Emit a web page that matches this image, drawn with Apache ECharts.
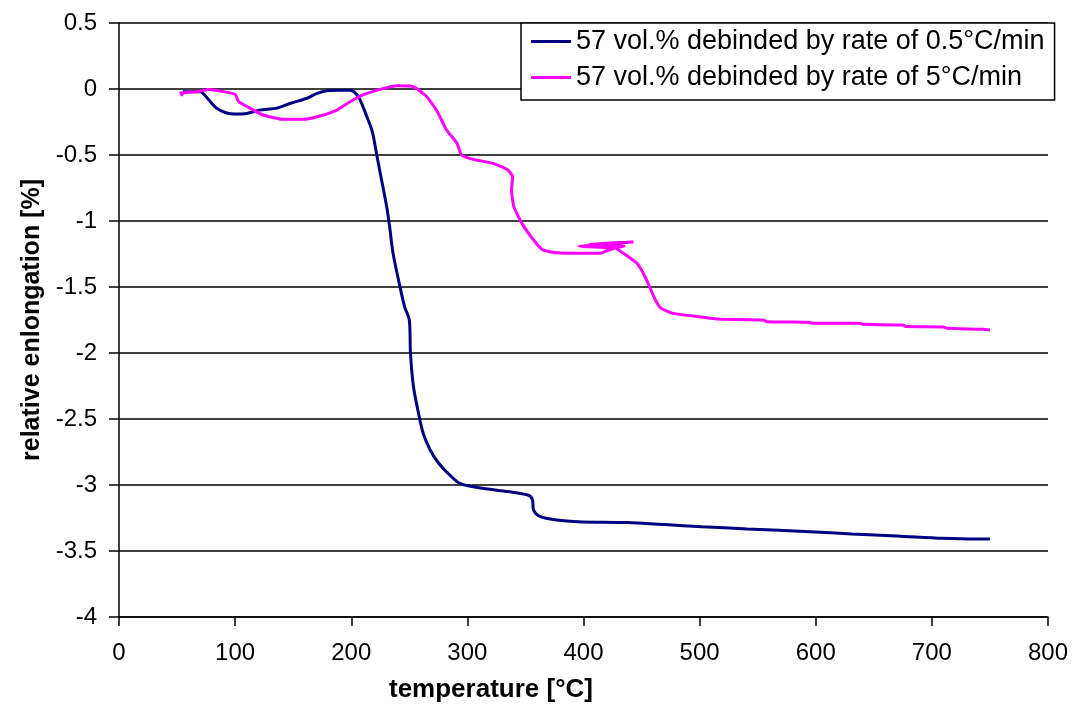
<!DOCTYPE html>
<html>
<head>
<meta charset="utf-8">
<script src="https://cdn.jsdelivr.net/npm/echarts@6/dist/echarts.min.js"></script>
<style>
html,body{margin:0;padding:0;background:#fff;}
#chart{width:1072px;height:711px;}
</style>
</head>
<body>
<div id="chart"></div>
<script>
// Series names
const seriesNames = ['57 vol.% debinded by rate of 0.5°C/min', '57 vol.% debinded by rate of 5°C/min'];

// Series 1: 0.5 °C/min (temperature °C, relative elongation %)
const slowTemp = [55,62,70,77,84,92,100,110,121,136,147,162,170,179,190,199,203,207.5,213,218,222,225,230.5,233,236,242,246,250,251,253.5,258,262,268,274,282,294,313,335,352,356,357,363,377,395,438,470,502,541,595,631,670,709,738,750];
const slowElong = [-0.02,-0.02,-0.02,-0.08,-0.145,-0.18,-0.19,-0.185,-0.16,-0.145,-0.11,-0.07,-0.035,-0.013,-0.01,-0.01,-0.025,-0.08,-0.2,-0.32,-0.5,-0.64,-0.89,-1.04,-1.245,-1.5,-1.65,-1.75,-2.0,-2.25,-2.46,-2.61,-2.735,-2.82,-2.9,-2.99,-3.025,-3.05,-3.076,-3.11,-3.19,-3.24,-3.265,-3.278,-3.285,-3.30,-3.316,-3.333,-3.354,-3.371,-3.386,-3.404,-3.41,-3.41];

// Series 2: 5 °C/min
const fastTemp = [53,54,55.5,67,78,90,100,103,113,124,141,159,173,187.5,199,210,228,239,251,256,262,265,274,282,291,295,305,322,334,339,338,340,347,357,365,377,397,414,420,428,396,443,405,435,428,437,446,451.5,457,462,467,477,494.5,515,555,558,595,598,638,641,675,678,710,713,744,750];
const fastElong = [-0.02,-0.045,-0.028,-0.02,-0.003,-0.02,-0.04,-0.096,-0.146,-0.197,-0.23,-0.23,-0.205,-0.16,-0.096,-0.045,0.005,0.025,0.023,0.005,-0.035,-0.058,-0.17,-0.31,-0.41,-0.5,-0.533,-0.563,-0.608,-0.664,-0.765,-0.891,-1.018,-1.144,-1.22,-1.24,-1.245,-1.245,-1.225,-1.205,-1.19,-1.16,-1.175,-1.19,-1.205,-1.26,-1.32,-1.396,-1.5,-1.6,-1.662,-1.7,-1.72,-1.742,-1.75,-1.763,-1.768,-1.775,-1.775,-1.783,-1.788,-1.8,-1.803,-1.813,-1.82,-1.826];

// Axis ticks
const xMin = 0, xMax = 800, xStep = 100;
const yMin = -4, yMax = 0.5, yStep = 0.5;

const zip = (a, b) => a.map((v, i) => [v, b[i]]);

const chart = echarts.init(document.getElementById('chart'), null, {renderer: 'canvas'});
const font = 'Liberation Sans, Arial, sans-serif';
chart.setOption({
  animation: false,
  backgroundColor: '#ffffff',
  grid: {left: 119, right: 24, top: 23, bottom: 94, containLabel: false},
  xAxis: {
    type: 'value', min: xMin, max: xMax, interval: xStep,
    axisLine: {show: true, onZero: false, lineStyle: {color: '#000', width: 1.5}},
    axisTick: {show: true, length: 9, lineStyle: {color: '#000', width: 1.5}},
    axisLabel: {color: '#000', fontSize: 24, fontFamily: font, margin: 24},
    splitLine: {show: false}
  },
  yAxis: {
    type: 'value', min: yMin, max: yMax, interval: yStep,
    name: 'relative enlongation [%]', nameLocation: 'middle', nameGap: 74, nameRotate: 90,
    nameTextStyle: {color: '#000', fontSize: 25, fontWeight: 'bold', fontFamily: font},
    axisLine: {show: true, onZero: false, lineStyle: {color: '#000', width: 1.5}},
    axisTick: {show: true, length: 10, lineStyle: {color: '#000', width: 1.5}},
    axisLabel: {color: '#000', fontSize: 24, fontFamily: font, margin: 22},
    splitLine: {show: true, lineStyle: {color: '#000', width: 1.5}}
  },
  legend: {
    orient: 'vertical', left: 521, top: 23,
    backgroundColor: '#fff', borderColor: '#000', borderWidth: 1.5,
    padding: [5, 10, 9, 10], itemGap: 9,
    itemWidth: 40, itemHeight: 3, icon: 'rect',
    textStyle: {color: '#000', fontSize: 27, fontFamily: font},
    data: seriesNames
  },
  graphic: [{
    type: 'text', left: 389, top: 677,
    style: {text: 'temperature [°C]', fill: '#000', font: 'bold 26px ' + font}
  }],
  series: [
    {name: seriesNames[0], type: 'line', data: zip(slowTemp, slowElong), showSymbol: false, symbol: 'none',
     lineStyle: {color: '#000080', width: 3}, itemStyle: {color: '#000080'}, smooth: 0.3, z: 3},
    {name: seriesNames[1], type: 'line', data: zip(fastTemp, fastElong), showSymbol: false, symbol: 'none',
     lineStyle: {color: '#FF00FF', width: 3}, itemStyle: {color: '#FF00FF'}, smooth: 0.15, z: 4}
  ]
});
</script>
</body>
</html>
